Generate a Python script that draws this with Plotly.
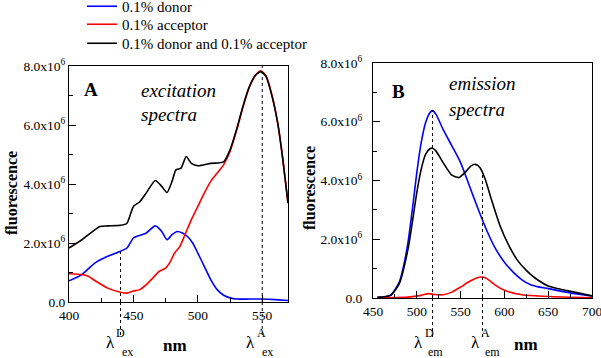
import numpy as np
import plotly.graph_objects as go

# ---------------- data (panel A: excitation spectra) ----------------
exA_donor_x = [400, 410, 420, 430, 440, 445, 450, 455, 460, 467, 472, 476, 480, 484, 488, 492, 496, 500,
               505, 510, 515, 520, 525, 530, 540, 550, 560, 570]
exA_donor_y = [0.72, 0.93, 1.32, 1.55, 1.72, 1.83, 2.17, 2.26, 2.34, 2.58, 2.39, 2.11, 2.28, 2.39, 2.34,
               2.22, 2.00, 1.66, 1.21, 0.76, 0.42, 0.23, 0.14, 0.10, 0.10, 0.10, 0.08, 0.05]

exA_acc_x = [400, 410, 415, 420, 430, 440, 445, 450, 455, 460, 465, 470, 475, 478, 482, 486, 490, 495,
             500, 505, 510, 515, 520, 525, 530, 535, 540, 545, 549, 553, 557, 562, 566, 570]
exA_acc_y = [0.96, 0.93, 0.87, 0.73, 0.47, 0.33, 0.30, 0.37, 0.42, 0.59, 0.81, 1.04, 1.15, 1.32, 1.66,
             1.88, 2.28, 2.79, 3.24, 3.69, 4.09, 4.37, 4.65, 5.10, 5.80, 6.60, 7.28, 7.70, 7.84, 7.66,
             7.10, 6.08, 4.84, 3.36]

exA_both_x = [400, 410, 424, 430, 440, 445, 450, 455, 460, 467, 472, 476, 480, 483, 487, 491, 495, 500,
              510, 520, 525, 530, 535, 540, 545, 549, 553, 557, 562, 566, 570]
exA_both_y = [1.83, 2.11, 2.56, 2.58, 2.60, 2.67, 3.24, 3.40, 3.70, 4.12, 3.92, 3.71, 4.09, 4.48, 4.54,
              4.93, 4.70, 4.62, 4.70, 4.75, 5.16, 5.84, 6.63, 7.30, 7.70, 7.81, 7.64, 7.08, 6.06, 4.82, 3.35]

# ---------------- data (panel B: emission spectra) ----------------
emB_donor_x = [455, 470, 480, 485, 490, 495, 500, 505, 510, 515, 518, 522, 530, 540, 550, 560, 570, 580,
               590, 600, 610, 620, 630, 640, 650, 660, 680, 700]
emB_donor_y = [0.02, 0.09, 0.54, 1.10, 1.90, 3.03, 4.27, 5.29, 5.97, 6.31, 6.38, 6.25, 5.74, 5.18, 4.61,
               3.82, 3.03, 2.29, 1.67, 1.22, 0.88, 0.62, 0.45, 0.37, 0.32, 0.26, 0.15, 0.07]

emB_acc_x = [455, 490, 505, 513, 520, 530, 540, 550, 560, 570, 575, 580, 590, 600, 620, 650, 700]
emB_acc_y = [0.01, 0.03, 0.09, 0.15, 0.12, 0.11, 0.20, 0.37, 0.56, 0.70, 0.71, 0.66, 0.43, 0.26, 0.11,
             0.05, 0.01]

emB_both_x = [455, 470, 480, 490, 500, 505, 510, 515, 518, 522, 530, 540, 548, 555, 562, 567, 572, 578,
              585, 595, 605, 615, 625, 635, 650, 665, 680, 700]
emB_both_y = [0.02, 0.09, 0.49, 1.67, 3.59, 4.38, 4.89, 5.08, 5.10, 5.00, 4.61, 4.18, 4.10, 4.27, 4.50,
              4.55, 4.44, 4.05, 3.37, 2.46, 1.79, 1.28, 0.94, 0.68, 0.41, 0.29, 0.20, 0.07]

SCALE = 1e6

# tick labels
y_tickvals = [0, 2e6, 4e6, 6e6, 8e6]
y_ticktext = ["0.0", "2.0x10<sup>6</sup>", "4.0x10<sup>6</sup>", "6.0x10<sup>6</sup>", "8.0x10<sup>6</sup>"]
xA_tickvals = [400, 450, 500, 550]
xB_tickvals = [450, 500, 550, 600, 650, 700]

# marker wavelengths
lamA_D, lamA_A = 440, 550
lamB_D, lamB_A = 518, 575

names = ["0.1% donor", "0.1% acceptor", "0.1% donor and 0.1% acceptor"]
colors = ["#0000ff", "#ff0000", "#000000"]

W, H = 601, 358
FONT = "Liberation Serif"


def px_x(p):
    return p / W


def px_y(p):
    return 1 - p / H


fig = go.Figure()

A_sets = [(exA_donor_x, exA_donor_y), (exA_acc_x, exA_acc_y), (exA_both_x, exA_both_y)]
B_sets = [(emB_donor_x, emB_donor_y), (emB_acc_x, emB_acc_y), (emB_both_x, emB_both_y)]
legend_ids = ["legend", "legend2", "legend3"]

for (x, y), n, c, lg in zip(A_sets, names, colors, legend_ids):
    fig.add_trace(go.Scatter(x=x, y=np.array(y) * SCALE, mode="lines", name=n, legend=lg,
                             line=dict(color=c, width=1.6, shape="spline", smoothing=0.6),
                             xaxis="x", yaxis="y", showlegend=True))
for (x, y), n, c in zip(B_sets, names, colors):
    fig.add_trace(go.Scatter(x=x, y=np.array(y) * SCALE, mode="lines", name=n,
                             line=dict(color=c, width=1.6, shape="spline", smoothing=0.6),
                             xaxis="x2", yaxis="y2", showlegend=False))

axis_common = dict(showline=True, linecolor="black", linewidth=1, mirror=True, showgrid=False,
                   zeroline=False, ticks="inside", tickcolor="black", ticklen=7, automargin=False,
                   ticklabeloverflow="allow",
                   tickfont=dict(family=FONT, size=13.5, color="black"))

domA_x = [px_x(69), px_x(288)]
domA_y = [px_y(302), px_y(66)]
domB_x = [px_x(373), px_x(592)]
domB_y = [px_y(298), px_y(63)]

legend_rows = [6, 24, 43]
legend_common = dict(x=px_x(82), xanchor="left", yanchor="top", bgcolor="rgba(0,0,0,0)",
                     font=dict(family=FONT, size=15, color="black"), itemwidth=30)

fig.update_layout(
    template="none",
    width=W, height=H, autosize=False, margin=dict(l=0, r=0, t=0, b=0, pad=0, autoexpand=False),
    paper_bgcolor="white", plot_bgcolor="white",
    font=dict(family=FONT, color="black"),
    xaxis=dict(axis_common, domain=domA_x, range=[400, 570], anchor="y",
               tickvals=xA_tickvals, ticklabelstandoff=1,
               minor=dict(dtick=25, tick0=400, ticks="inside", ticklen=4, tickcolor="black")),
    yaxis=dict(axis_common, domain=domA_y, range=[0, 8e6], anchor="x",
               tickvals=y_tickvals, ticktext=y_ticktext,
               minor=dict(dtick=1e6, tick0=0, ticks="inside", ticklen=4, tickcolor="black")),
    xaxis2=dict(axis_common, domain=domB_x, range=[450, 700], anchor="y2",
                tickvals=xB_tickvals, ticklabelstandoff=1,
                minor=dict(dtick=25, tick0=450, ticks="inside", ticklen=4, tickcolor="black")),
    yaxis2=dict(axis_common, domain=domB_y, range=[0, 8e6], anchor="x2",
                tickvals=y_tickvals, ticktext=y_ticktext, ticklabelstandoff=7,
                minor=dict(dtick=1e6, tick0=0, ticks="inside", ticklen=4, tickcolor="black")),
    legend=dict(legend_common, y=px_y(legend_rows[0] - 16)),
    legend2=dict(legend_common, y=px_y(legend_rows[1] - 16)),
    legend3=dict(legend_common, y=px_y(legend_rows[2] - 16)),
)

# dotted marker lines
dot = dict(color="black", width=1, dash="dot")
below_y = px_y(337)
markers = [
    ("x", "y", lamA_D, float(np.interp(lamA_D, exA_donor_x, exA_donor_y)) * SCALE, domA_y[0]),
    ("x", "y", lamA_A, 8e6, domA_y[0]),
    ("x2", "y2", lamB_D, float(np.interp(lamB_D, emB_donor_x, emB_donor_y)) * SCALE, domB_y[0]),
    ("x2", "y2", lamB_A, float(np.interp(lamB_A, emB_both_x, emB_both_y)) * SCALE, domB_y[0]),
]
for xr, yr, xv, top, bottom_paper in markers:
    fig.add_shape(type="line", xref=xr, yref=yr, x0=xv, x1=xv, y0=0, y1=top, line=dot)
    fig.add_shape(type="line", xref=xr, yref="paper", x0=xv, x1=xv, y0=bottom_paper, y1=below_y, line=dot)


def ann(x, y, text, size, xanchor="center", yanchor="middle", **kw):
    fig.add_annotation(x=px_x(x), y=px_y(y), xref="paper", yref="paper", text=text, showarrow=False,
                       xanchor=xanchor, yanchor=yanchor, borderpad=0,
                       font=dict(family=FONT, size=size, color="black"), **kw)


# y axis titles
ann(11, 193, "<b>fluorescence</b>", 16, textangle=-90)
ann(309, 188, "<b>fluorescence</b>", 16, textangle=-90)
# x axis titles
ann(175, 345, "<b>nm</b>", 17)
ann(526, 344, "<b>nm</b>", 17)


# lambda labels
def lam(xl, sup, sub):
    ann(xl, 342, "λ", 17)
    ann(xl + 11, 333, sup, 12)
    ann(xl + 17, 352, sub, 12)


lam(110, "D", "ex")
lam(250, "A", "ex")
lam(418, "D", "em")
lam(475, "A", "em")

# panel labels
ann(91, 89, "<b>A</b>", 19)
ann(140, 90, "<i>excitation</i>", 19, xanchor="left")
ann(140, 115, "<i>spectra</i>", 19, xanchor="left")
ann(398, 91, "<b>B</b>", 19)
ann(448, 84, "<i>emission</i>", 19, xanchor="left")
ann(448, 109, "<i>spectra</i>", 19, xanchor="left")

fig.write_html("out.html", config={"displayModeBar": False},
               post_script="document.body.style.margin='0px';")
